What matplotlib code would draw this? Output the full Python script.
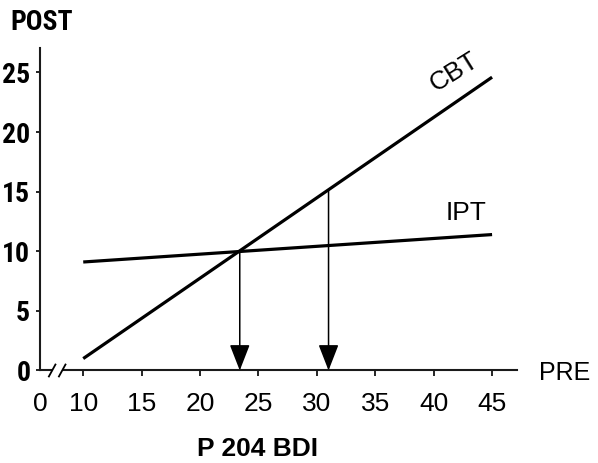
import numpy as np
import matplotlib
matplotlib.use('Agg')
import matplotlib.pyplot as plt

# ---- data ----
pre_range = [10, 45]          # PRE end points of both lines
cbt_post = [1.0, 24.6]        # CBT POST at PRE = 10 and 45
ipt_post = [9.1, 11.4]        # IPT POST at PRE = 10 and 45
arrow_x = [23.4, 31.0]        # PRE values marked with arrows
x_ticks = [10, 15, 20, 25, 30, 35, 40, 45]
x_tick_labels = ['10', '15', '20', '25', '30', '35', '40', '45']
y_ticks = [0, 5, 10, 15, 20, 25]
y_tick_labels = ['0', '5', '10', '15', '20', '25']
series_names = ['CBT', 'IPT']

XMIN, XMAX = 6.3, 47.1
YMIN, YMAX = 0, 27.05

COND = ['Roboto Condensed', 'Archivo Narrow', 'Barlow Condensed', 'DejaVu Sans']
REG = ['Liberation Sans', 'DejaVu Sans']

fig = plt.figure(figsize=(5.98, 4.63), dpi=100)
ax = fig.add_axes([0.0669, 0.1998, 0.797, 0.6966])
ax.set_xlim(XMIN, XMAX)
ax.set_ylim(YMIN, YMAX)

for s in ['top', 'right']:
    ax.spines[s].set_visible(False)
for s in ['left', 'bottom']:
    ax.spines[s].set_linewidth(1.5)
    ax.spines[s].set_color('#1a1a1a')

# lines
ax.plot(pre_range, cbt_post, color='black', lw=2.3, solid_capstyle='butt')
ax.plot(pre_range, ipt_post, color='black', lw=2.3, solid_capstyle='butt')

# arrows
for xv in arrow_x:
    ytop = np.interp(xv, pre_range, cbt_post)
    ax.annotate('', xy=(xv, 0), xytext=(xv, ytop),
                arrowprops=dict(arrowstyle='-|>,head_length=0.9,head_width=0.35',
                                color='black', lw=1.1, shrinkA=0, shrinkB=0,
                                mutation_scale=18),
                annotation_clip=False)

# line labels
ax.text(41.8, 25.0, series_names[0], rotation=32, ha='center', va='center',
        fontsize=19, family=REG)
ax.text(42.8, 13.2, series_names[1], ha='center', va='center',
        fontsize=19, family=REG)

# ticks
ax.set_xticks([XMIN] + x_ticks)
ax.set_xticklabels(['0'] + x_tick_labels, fontsize=19, family=REG)
ax.tick_params(axis='x', length=4.5, width=1.2, pad=11, direction='out')
ax.xaxis.get_major_ticks()[0].tick1line.set_visible(False)

ax.set_yticks(y_ticks)
ax.set_yticklabels(y_tick_labels, fontsize=20, fontweight='bold', family=COND)
ax.tick_params(axis='y', length=3, width=1.2, pad=4, direction='out')

# axis break marks
ax.plot([7.55, 8.0], [0, 0], color='white', lw=3, clip_on=False, zorder=5)
for xc in [7.34, 8.2]:
    ax.plot([xc - 0.28, xc + 0.28], [-0.5, 0.5], color='black', lw=1.3,
            clip_on=False, zorder=6)

# axis titles
fig.text(0.070, 0.951, 'POST', ha='center', va='center', fontsize=20,
         fontweight='bold', family=COND)
fig.text(0.945, 0.194, 'PRE', ha='center', va='center', fontsize=18,
         family=REG)
fig.text(0.430, 0.030, 'P 204 BDI', ha='center', va='center', fontsize=19,
         fontweight='bold', family=REG)

fig.savefig('out.png', dpi=100)
